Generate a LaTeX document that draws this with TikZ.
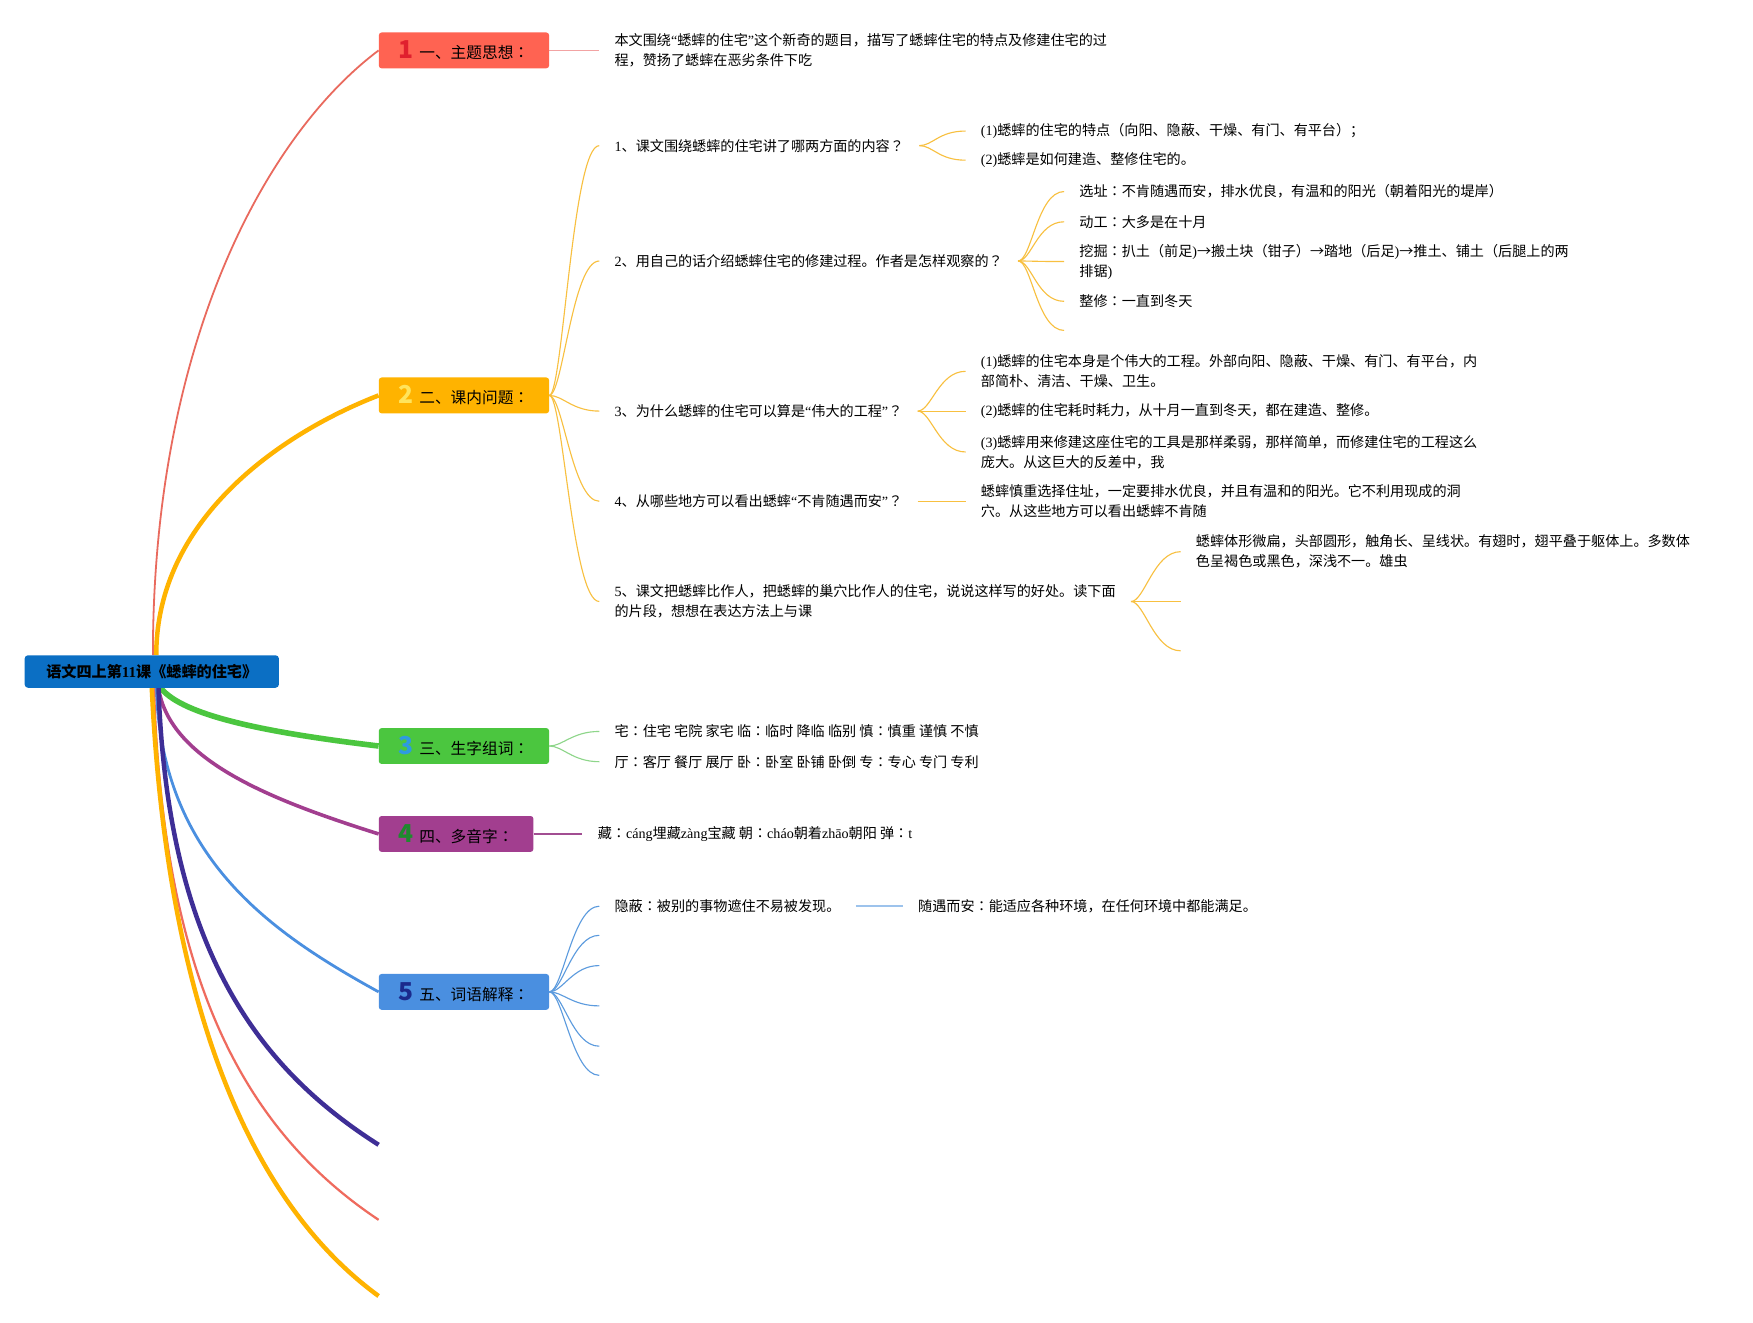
\documentclass[tikz,border=0pt]{standalone}
\usepackage{fontspec}
\setmainfont{Noto Sans CJK SC}
\newfontfamily\lat{Liberation Serif}
\newfontfamily\jpf{Noto Sans CJK JP}
\usetikzlibrary{backgrounds}
\definecolor{c1}{HTML}{FF6352}
\definecolor{c2}{HTML}{FFB300}
\definecolor{c3}{HTML}{4BC63F}
\definecolor{c4}{HTML}{A23E8F}
\definecolor{c5}{HTML}{4A8FE0}
\definecolor{rootc}{HTML}{0B6FC4}
\definecolor{d1}{HTML}{E0202E}
\definecolor{d2}{HTML}{FFE45C}
\definecolor{d3}{HTML}{2E9BE0}
\definecolor{d4}{HTML}{1F8A2E}
\definecolor{d5}{HTML}{1B2A8C}
\definecolor{l1}{HTML}{E96A5E}
\definecolor{l1s}{HTML}{F2A3A3}
\definecolor{l2s}{HTML}{F8C040}
\definecolor{l3s}{HTML}{8ED68A}
\definecolor{l4s}{HTML}{A24E92}
\definecolor{l5s}{HTML}{5C9BDE}
\definecolor{l5t}{HTML}{9DC3EC}
\definecolor{l6}{HTML}{3E2E96}
\definecolor{l7}{HTML}{EF6B5E}
\newcommand\bigdigit[2]{{\fontsize{22}{22}\selectfont\bfseries\color{#1}#2}}
\newcommand\qo{{\lat “}}
\newcommand\qc{{\lat ”}}
\newcommand\cl{{\jpf ：}}
\newcommand\qm{{\jpf ？}}
\begin{document}
\begin{tikzpicture}[x=1pt,y=-1pt,
  topic/.style={rectangle, rounded corners=2.5pt, anchor=west, minimum height=32pt, inner sep=0pt, font=\fontsize{14}{16}\selectfont, text=black},
  leaf/.style={anchor=west, align=left, inner xsep=13.5pt, inner ysep=2pt, font=\fontsize{12.6}{18}\selectfont, text=black},
  curvy/.style={to path={.. controls +(12,0) and +(-24,0) .. (\tikztotarget)}},
  subl/.style={line width=1pt},
]
\path[use as bounding box] (0,0) rectangle (1565,1181);

% root
\node[fill=rootc, rounded corners=3pt, minimum width=227pt, minimum height=29pt, inner sep=0pt,
      font=\fontsize{13.5}{15}\selectfont\bfseries] (root) at (135.5,599.5)
      {语文四上第{\lat 11}课《蟋蟀的住宅》};

% main topics
\node[topic, fill=c1, minimum width=152pt] (t1) at (338,45) {\bigdigit{d1}{1}\hspace{5pt}一、主题思想\cl};
\node[topic, fill=c2, minimum width=152pt] (t2) at (338,353) {\bigdigit{d2}{2}\hspace{5pt}二、课内问题\cl};
\node[topic, fill=c3, minimum width=152pt] (t3) at (338,666) {\bigdigit{d3}{3}\hspace{5pt}三、生字组词\cl};
\node[topic, fill=c4, minimum width=138pt] (t4) at (338,744.5) {\bigdigit{d4}{4}\hspace{5pt}四、多音字\cl};
\node[topic, fill=c5, minimum width=152pt] (t5) at (338,885.5) {\bigdigit{d5}{5}\hspace{5pt}五、词语解释\cl};

\coordinate (e1) at (338,1022);
\coordinate (e2) at (338,1089);
\coordinate (e3) at (338,1157);

% section 1
\node[leaf] (n1) at (535,45) {本文围绕\qo 蟋蟀的住宅\qc 这个新奇的题目，描写了蟋蟀住宅的特点及修建住宅的过\\程，赞扬了蟋蟀在恶劣条件下吃};

% section 2
\node[leaf] (q1) at (535,130) {{\lat 1}、课文围绕蟋蟀的住宅讲了哪两方面的内容\qm};
\node[leaf] (q1a) at (862,117) {{\lat (1)}蟋蟀的住宅的特点（向阳、隐蔽、干燥、有门、有平台）；};
\node[leaf] (q1b) at (862,143) {{\lat (2)}蟋蟀是如何建造、整修住宅的。};

\node[leaf] (q2) at (535,233) {{\lat 2}、用自己的话介绍蟋蟀住宅的修建过程。作者是怎样观察的\qm};
\node[leaf] (q2a) at (950,171) {选址\cl 不肯随遇而安，排水优良，有温和的阳光（朝着阳光的堤岸）};
\node[leaf] (q2b) at (950,198) {动工\cl 大多是在十月};
\node[leaf] (q2c) at (950,233.5) {挖掘\cl 扒土（前足{\lat )}→搬土块（钳子）→踏地（后足{\lat )}→推土、铺土（后腿上的两\\排锯{\lat )}};
\node[leaf] (q2d) at (950,269) {整修\cl 一直到冬天};
\coordinate (q2e) at (950,295);

\node[leaf] (q3) at (535,367) {{\lat 3}、为什么蟋蟀的住宅可以算是\qo 伟大的工程\qc\qm};
\node[leaf] (q3a) at (862,331.5) {{\lat (1)}蟋蟀的住宅本身是个伟大的工程。外部向阳、隐蔽、干燥、有门、有平台，内\\部简朴、清洁、干燥、卫生。};
\node[leaf] (q3b) at (862,367) {{\lat (2)}蟋蟀的住宅耗时耗力，从十月一直到冬天，都在建造、整修。};
\node[leaf] (q3c) at (862,403.5) {{\lat (3)}蟋蟀用来修建这座住宅的工具是那样柔弱，那样简单，而修建住宅的工程这么\\庞大。从这巨大的反差中，我};

\node[leaf] (q4) at (535,447.5) {{\lat 4}、从哪些地方可以看出蟋蟀\qo 不肯随遇而安\qc\qm};
\node[leaf] (q4a) at (862,447.5) {蟋蟀慎重选择住址，一定要排水优良，并且有温和的阳光。它不利用现成的洞\\穴。从这些地方可以看出蟋蟀不肯随};

\node[leaf] (q5) at (535,537) {{\lat 5}、课文把蟋蟀比作人，把蟋蟀的巢穴比作人的住宅，说说这样写的好处。读下面\\的片段，想想在表达方法上与课};
\node[leaf] (q5a) at (1054,492.5) {蟋蟀体形微扁，头部圆形，触角长、呈线状。有翅时，翅平叠于躯体上。多数体\\色呈褐色或黑色，深浅不一。雄虫};
\coordinate (q5b) at (1054,537);
\coordinate (q5c) at (1054,581);

% section 3
\node[leaf] (s3a) at (535,653) {宅\cl 住宅 宅院 家宅 临\cl 临时 降临 临别 慎\cl 慎重 谨慎 不慎};
\node[leaf] (s3b) at (535,680) {厅\cl 客厅 餐厅 展厅 卧\cl 卧室 卧铺 卧倒 专\cl 专心 专门 专利};

% section 4
\node[leaf] (s4) at (520,744.5) {藏\cl{\lat cáng}埋藏{\lat zàng}宝藏 朝\cl{\lat cháo}朝着{\lat zhāo}朝阳 弹\cl{\lat t}};

% section 5
\node[leaf] (s5a) at (535,809) {隐蔽\cl 被别的事物遮住不易被发现。};
\node[leaf] (s5b) at (806,809) {随遇而安\cl 能适应各种环境，在任何环境中都能满足。};
\coordinate (w2) at (535,835);
\coordinate (w3) at (535,862);
\coordinate (w4) at (535,898);
\coordinate (w5) at (535,934);
\coordinate (w6) at (535,960);

\begin{scope}[on background layer]
\fill[white] (0,0) rectangle (1565,1181);
% main branches
\draw[l1, line width=1.6pt] ([xshift=1pt]root.north) .. controls +(0,-280) and +(-100,75) .. (t1.west);
\draw[c2, line width=4pt] ([xshift=4pt]root.north) .. controls +(0,-120) and +(-90,35) .. (t2.west);
\draw[c3, line width=5pt] ([xshift=8pt]root.south) .. controls +(20,25) and +(-100,-12) .. (t3.west);
\draw[c4, line width=3.2pt] ([xshift=6pt]root.south) .. controls +(10,65) and +(-95,-30) .. (t4.west);
\draw[c5, line width=2.5pt] ([xshift=4pt]root.south) .. controls +(5,150) and +(-100,-55) .. (t5.west);
\draw[l6, line width=4pt] ([xshift=6pt]root.south) .. controls +(8,230) and +(-110,-70) .. (e1);
\draw[l7, line width=2pt] ([xshift=2pt]root.south) .. controls +(8,260) and +(-120,-80) .. (e2);
\draw[c2, line width=4pt] ([xshift=0pt]root.south) .. controls +(12,250) and +(-130,-95) .. (e3);

% section 1
\draw[l1s, subl] (t1.east) -- (n1.west);
% section 2
\draw[l2s, subl] (t2.east) to[curvy] (q1.west);
\draw[l2s, subl] (t2.east) to[curvy] (q2.west);
\draw[l2s, subl] (t2.east) to[curvy] (q3.west);
\draw[l2s, subl] (t2.east) to[curvy] (q4.west);
\draw[l2s, subl] (t2.east) to[curvy] (q5.west);
\draw[l2s, subl] (q1.east) to[curvy] (q1a.west);
\draw[l2s, subl] (q1.east) to[curvy] (q1b.west);
\draw[l2s, subl] (q2.east) to[curvy] (q2a.west);
\draw[l2s, subl] (q2.east) to[curvy] (q2b.west);
\draw[l2s, subl] (q2.east) to[curvy] (q2c.west);
\draw[l2s, subl] (q2.east) to[curvy] (q2d.west);
\draw[l2s, subl] (q2.east) to[curvy] (q2e);
\draw[l2s, subl] (q3.east) to[curvy] (q3a.west);
\draw[l2s, subl] (q3.east) to[curvy] (q3b.west);
\draw[l2s, subl] (q3.east) to[curvy] (q3c.west);
\draw[l2s, subl] (q4.east) -- (q4a.west);
\draw[l2s, subl] (q5.east) to[curvy] (q5a.west);
\draw[l2s, subl] (q5.east) to[curvy] (q5b);
\draw[l2s, subl] (q5.east) to[curvy] (q5c);
% section 3
\draw[l3s, subl] (t3.east) to[curvy] (s3a.west);
\draw[l3s, subl] (t3.east) to[curvy] (s3b.west);
% section 4
\draw[l4s, subl] (t4.east) -- (s4.west);
% section 5
\draw[l5s, subl] (t5.east) to[curvy] (s5a.west);
\draw[l5s, subl] (t5.east) to[curvy] (w2);
\draw[l5s, subl] (t5.east) to[curvy] (w3);
\draw[l5s, subl] (t5.east) to[curvy] (w4);
\draw[l5s, subl] (t5.east) to[curvy] (w5);
\draw[l5s, subl] (t5.east) to[curvy] (w6);
\draw[l5t, line width=1.6pt] (s5a.east) -- (s5b.west);
\end{scope}
\end{tikzpicture}
\end{document}
